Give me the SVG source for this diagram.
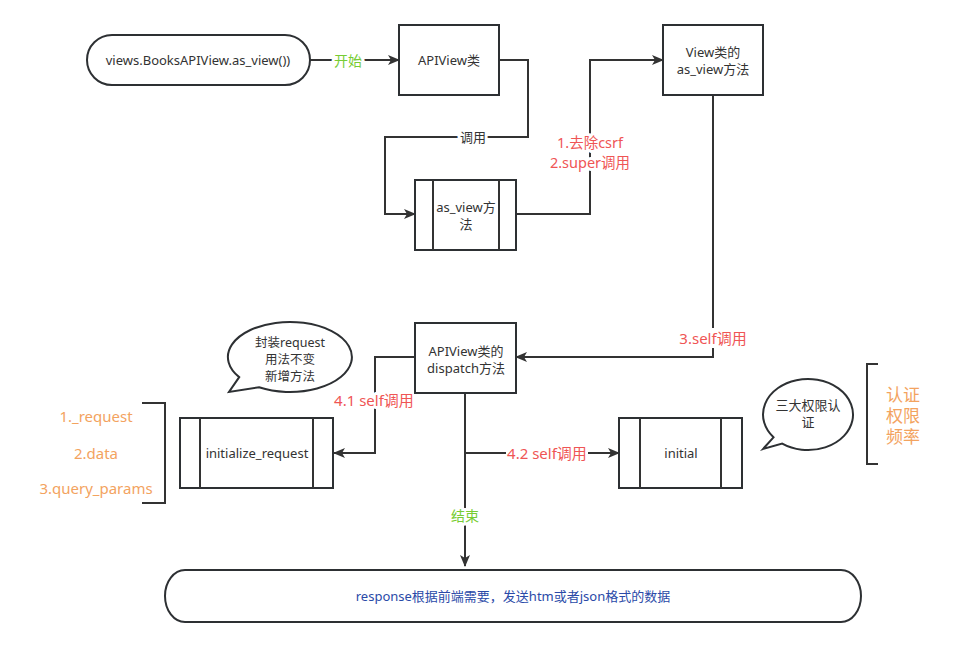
<svg xmlns="http://www.w3.org/2000/svg" width="962" height="645" viewBox="0 0 962 645">
<defs>
<marker id="arr" markerWidth="12" markerHeight="10" refX="11" refY="5" orient="auto" markerUnits="userSpaceOnUse">
<path d="M0,0 L12,5 L0,10 L3,5 Z" fill="#333"/>
</marker>
<style>
.box{fill:#fff;stroke:#2d3033;stroke-width:2}
.ln{fill:none;stroke:#333;stroke-width:2}
.bg{fill:#fff}
.t{font-family:"Noto Sans","Noto Sans CJK SC",sans-serif;font-size:13px;fill:#333;text-anchor:middle;dominant-baseline:central}
.sm{font-size:12.5px}
.lbl{paint-order:stroke;stroke:#fff;stroke-width:6px;stroke-linejoin:round}
.red{fill:#ef5555;font-size:15px}
.red2{fill:#ef5555;font-size:14.5px}
.grn{fill:#77cc33;font-size:14px}
.org{fill:#f3a35f;font-size:15px}
.org2{fill:#f3a35f;font-size:17px}
.blue{fill:#2a4aa8;font-size:13px}
</style>
</defs>
<rect width="962" height="645" fill="#fff"/>
<g id="connectors">
<path class="ln" d="M310,60 H399" marker-end="url(#arr)"/>
<path class="ln" d="M499,60 H528 V137 H385 V214 H415" marker-end="url(#arr)"/>
<path class="ln" d="M516,214 H590 V60 H663" marker-end="url(#arr)"/>
<path class="ln" d="M713,95 V357 H516" marker-end="url(#arr)"/>
<path class="ln" d="M415,357 H375 V453 H334" marker-end="url(#arr)"/>
<path class="ln" d="M465,393 V566" marker-end="url(#arr)"/>
<path class="ln" d="M465,453 H619" marker-end="url(#arr)"/>
<rect class="bg" x="506" y="443" width="82" height="20"/>
<rect class="bg" x="678" y="328" width="70" height="20"/>
<text class="t grn lbl" x="348" y="60">开始</text>
<text class="t lbl" x="473" y="137">调用</text>
<text class="t red2 lbl" x="590" y="142">1.去除csrf</text>
<text class="t red2 lbl" x="590" y="162">2.super调用</text>
<text class="t red" x="713" y="338">3.self调用</text>
<text class="t red lbl" x="374" y="400">4.1 self调用</text>
<text class="t red" x="547" y="453">4.2 self调用</text>
<text class="t grn lbl" x="465" y="515">结束</text>
</g>
<g id="start">
<rect class="box" x="87" y="35" width="223" height="50" rx="25"/>
<text class="t" x="198" y="60">views.BooksAPIView.as_view())</text>
</g>
<g id="apiview">
<rect class="box" x="399" y="25" width="100" height="70"/>
<text class="t" x="449" y="60">APIView类</text>
</g>
<g id="as_view">
<rect class="box" x="415" y="180" width="101" height="70"/>
<path class="ln" d="M433,180 V250 M499,180 V250"/>
<text class="t" x="466" y="207">as_view方</text>
<text class="t" x="466" y="224">法</text>
</g>
<g id="view_as_view">
<rect class="box" x="663" y="25" width="100" height="70"/>
<text class="t" x="713" y="52">View类的</text>
<text class="t" x="713" y="69">as_view方法</text>
</g>
<g id="dispatch">
<rect class="box" x="415" y="323" width="101" height="70"/>
<text class="t" x="466" y="351">APIView类的</text>
<text class="t" x="466" y="368">dispatch方法</text>
</g>
<g id="initialize_request">
<rect class="box" x="180" y="418" width="153" height="70"/>
<path class="ln" d="M200,418 V488 M313,418 V488"/>
<text class="t" x="257" y="453">initialize_request</text>
</g>
<g id="initial">
<rect class="box" x="619" y="418" width="123" height="70"/>
<path class="ln" d="M640,418 V488 M721,418 V488"/>
<text class="t" x="681" y="453">initial</text>
</g>
<g id="response">
<rect class="box" x="165" y="570" width="696" height="52" rx="20" ry="26"/>
<text class="t blue" x="513" y="596">response根据前端需要，发送htm或者json格式的数据</text>
</g>
<g id="bubble1">
<path class="box" d="M259,387.3 A62,35 0 1 0 239.2,377.1 L229,392 Z"/>
<text class="t sm" x="290" y="342">封装request</text>
<text class="t sm" x="290" y="359">用法不变</text>
<text class="t sm" x="290" y="376">新增方法</text>
</g>
<g id="bubble2">
<path class="box" d="M782.2,443.6 A45,35.5 0 1 0 773.5,437.3 L763,449 Z"/>
<text class="t" x="808" y="405">三大权限认</text>
<text class="t" x="808" y="422">证</text>
</g>
<g id="bracket_left">
<path class="ln" d="M142,403 H165 V503 H142"/>
<text class="t org" x="96" y="416">1._request</text>
<text class="t org" x="96" y="453">2.data</text>
<text class="t org" x="96" y="488">3.query_params</text>
</g>
<g id="bracket_right">
<path class="ln" d="M878,364 H867 V464 H878"/>
<text class="t org2" x="903" y="394">认证</text>
<text class="t org2" x="903" y="415">权限</text>
<text class="t org2" x="903" y="436">频率</text>
</g>
</svg>
